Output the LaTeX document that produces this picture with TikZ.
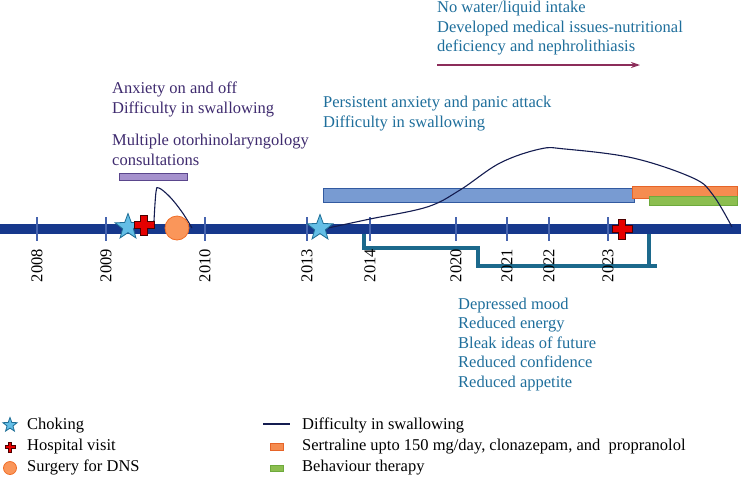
\documentclass[tikz,border=0pt]{standalone}
\usepackage{fontspec}
\setmainfont{Liberation Serif}
\usepackage{xcolor}
\usepackage{tikz}
\usetikzlibrary{shapes.geometric,arrows.meta}

\definecolor{tlblue}{RGB}{22,56,140}
\definecolor{tickblue}{RGB}{70,100,175}
\definecolor{purptext}{RGB}{62,42,110}
\definecolor{tealtext}{RGB}{30,110,155}
\definecolor{plum}{RGB}{140,45,90}
\definecolor{brkteal}{RGB}{28,105,140}
\definecolor{curvenavy}{RGB}{20,28,80}
\definecolor{starfill}{RGB}{100,190,230}
\definecolor{startrim}{RGB}{30,110,150}
\definecolor{dnsfill}{RGB}{250,150,90}
\definecolor{dnstrim}{RGB}{240,110,40}
\definecolor{entfill}{RGB}{165,145,205}
\definecolor{enttrim}{RGB}{90,70,140}
\definecolor{anxfill}{RGB}{120,155,210}
\definecolor{anxtrim}{RGB}{50,90,160}
\definecolor{drugfill}{RGB}{245,140,80}
\definecolor{drugtrim}{RGB}{230,100,40}
\definecolor{cbtfill}{RGB}{140,190,80}
\definecolor{cbttrim}{RGB}{110,170,60}

\tikzset{
  txt/.style={font=\fontsize{16.5}{19.5}\selectfont, inner sep=0pt, align=left, anchor=base west},
  choke/.style={star, star points=5, star point ratio=2.4, minimum size=27pt, inner sep=0pt,
    fill=starfill, draw=startrim, line width=0.8pt},
  dns/.style={circle, minimum size=24pt, inner sep=0pt, fill=dnsfill, draw=dnstrim, line width=0.8pt},
  hospital/.pic={
    \filldraw[fill=red!90!black, draw=black!70!red, line width=1pt]
      (-3.5,-10)--(3.5,-10)--(3.5,-3.5)--(10,-3.5)--(10,3.5)--(3.5,3.5)--(3.5,10)
      --(-3.5,10)--(-3.5,3.5)--(-10,3.5)--(-10,-3.5)--(-3.5,-3.5)--cycle;
  }
}

\begin{document}
\begin{tikzpicture}[x=1pt,y=-1pt]
\useasboundingbox (0,0) rectangle (741,480);
% bars
\filldraw[fill=entfill, draw=enttrim, line width=0.8pt] (119,173) rectangle (187,180);
\filldraw[fill=anxfill, draw=anxtrim, line width=0.8pt] (323,188) rectangle (634,202);
\filldraw[fill=drugfill, draw=drugtrim, line width=0.8pt] (632,186) rectangle (737,198);
\filldraw[fill=cbtfill, draw=cbttrim, line width=0.8pt] (649,196) rectangle (737,205);
% bracket below
\coordinate (b1) at (364,233);
\coordinate (b2) at (478,248);
\coordinate (b3) at (655,266);
\coordinate (b4) at (649,233);
\draw[brkteal, line width=4pt, line cap=rect] (b1) |- (b2) |- (b3);
\draw[brkteal, line width=4pt] (b4) -- (b4 |- b3);
% timeline
\draw[tlblue, line width=10.5pt] (0,229) -- (741,229);
\foreach \yr/\x in {2008/37,2009/106,2010/205,2013/307,2014/370,2020/456,2021/507,2022/549,2023/608} {
  \draw[tickblue, line width=1.2pt] (\x,217) -- (\x,241);
  \node[rotate=90, anchor=east, inner sep=0pt, font=\fontsize{16.5}{19.5}\selectfont] (y\yr) at (\x,249) {\yr};
}
% difficulty in swallowing
\draw[curvenavy, line width=1.1pt] plot[smooth, tension=0.6] coordinates
  {(154,221) (156,192) (159,188) (170,197) (182,212) (192,228)};
\draw[curvenavy, line width=1.1pt] plot[smooth, tension=0.6] coordinates
  {(328,228) (370,219) (427,207) (460,190) (500,163) (540,149) (565,149) (633,158) (693,178) (713,195) (732,227)};
% events
\node[choke] (choke1) at (128,227) {};
\node[choke] (choke2) at (320,228) {};
\pic at (144,225) {hospital};
\pic at (622,229) {hospital};
\node[dns] (surgery) at (177,228) {};
% texts (anchored at the last line)
\node[txt, text=tealtext] (nowater) at (437,51.5) {No water/liquid intake\\Developed medical issues-nutritional\\deficiency and nephrolithiasis};
\coordinate (arrA) at (437,65);
\coordinate (arrB) at (640,65);
\draw[plum, line width=1.3pt, -{Stealth[length=9pt,width=6pt]}] (arrA) -- (arrB);
\node[txt, text=purptext] (anx) at (112,113) {Anxiety on and off\\Difficulty in swallowing};
\node[txt, text=purptext] (ent) at (112,165) {Multiple otorhinolaryngology\\consultations};
\node[txt, text=tealtext] (panic) at (323,127) {Persistent anxiety and panic attack\\Difficulty in swallowing};
\node[txt, text=tealtext] (depr) at (458,387) {Depressed mood\\Reduced energy\\Bleak ideas of future\\Reduced confidence\\Reduced appetite};
% legend
\node[choke, minimum size=15pt] (lchoke) at (10,425) {};
\pic[scale=0.5] at (10,447) {hospital};
\node[dns, minimum size=13pt] (lsurg) at (10,468) {};
\node[txt] (lt1) at (27,429) {Choking};
\node[txt] (lt2) at (27,450) {Hospital visit};
\node[txt] (lt3) at (27,471) {Surgery for DNS};
\draw[curvenavy, line width=1.1pt] (263,424) -- (290,424);
\filldraw[fill=drugfill, draw=drugtrim, line width=0.8pt] (270,443) rectangle (283,450);
\filldraw[fill=cbtfill, draw=cbttrim, line width=0.8pt] (270,465) rectangle (283,471);
\node[txt] (lt4) at (302,429) {Difficulty in swallowing};
\node[txt] (lt5) at (302,450) {Sertraline upto 150 mg/day, clonazepam, and\ \ propranolol};
\node[txt] (lt6) at (302,471) {Behaviour therapy};
\end{tikzpicture}
\end{document}
